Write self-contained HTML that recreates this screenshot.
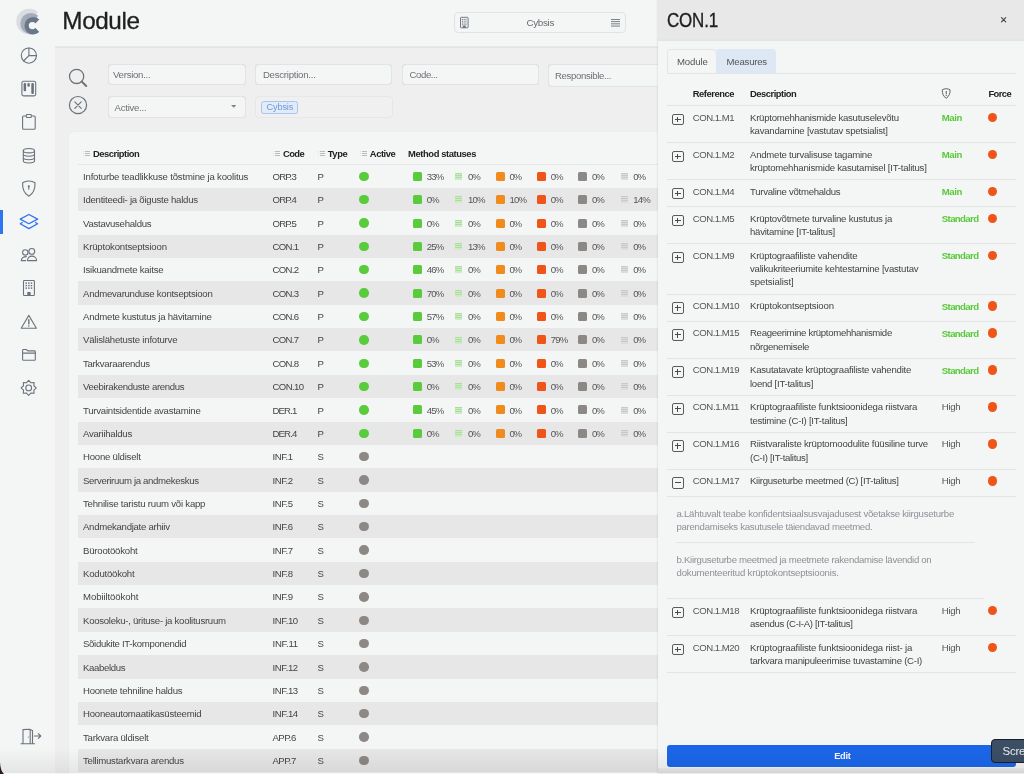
<!DOCTYPE html>
<html><head><meta charset="utf-8"><title>Module</title>
<style>
*{box-sizing:border-box;margin:0;padding:0}
html,body{width:1024px;height:774px;overflow:hidden}
body{background:#f4f5f5;font-family:"Liberation Sans", Arial, sans-serif;color:#444;position:relative;font-size:9px}
.a{position:absolute}
.t{position:absolute;white-space:nowrap;line-height:1}
.inp{position:absolute;background:#f4f5f5;border:1px solid #e2e3e4;border-radius:4px;box-shadow:0 0 0.6px rgba(0,0,0,.12)}
.sq{position:absolute;width:9px;height:9px;border-radius:1.5px}
.dot{position:absolute;width:9.4px;height:9.4px;border-radius:50%}
.pb{position:absolute;width:11.5px;height:11.6px;border:1px solid #5a5a5a;border-radius:2px}
.pb:before{content:"";position:absolute;left:2px;top:4.3px;width:5.6px;height:0.95px;background:#4a4a4a}
.pb.plus:after{content:"";position:absolute;left:4.3px;top:2.05px;width:0.95px;height:5.4px;background:#4a4a4a}
.sep{position:absolute;height:1px;background:#e3e4e5}
</style></head><body>

<svg class="a" style="left:10px;top:5px" width="40" height="40" viewBox="10 5 40 40"><path d="M29.20 21.60L38.00 31.03A12.9 12.9 0 1 1 38.00 12.17Z" fill="#d9dde1"/><path d="M31.00 23.60L38.30 31.43A10.7 10.7 0 1 1 38.30 15.77Z" fill="#a4adb7"/><path d="M33.20 25.75L39.28 32.04A8.75 8.75 0 1 1 39.28 19.46Z" fill="#697889"/><circle cx="32.4" cy="25.6" r="3.6" fill="#f4f5f5"/></svg>
<svg class="a" style="left:20px;top:47px" width="18" height="18" viewBox="20 47 18 18"><g fill="none" stroke="#6b737c" stroke-width="1.1" stroke-linecap="round" stroke-linejoin="round"><circle cx="28.9" cy="55.6" r="7.6"/><path d="M28.9 48V55.6H36.5M28.9 55.6L23.5 61"/></g></svg>
<svg class="a" style="left:20px;top:79px" width="18" height="19" viewBox="20 79 18 19"><rect x="21.9" y="81.3" width="13.8" height="14.6" rx="1.6" fill="none" stroke="#6b737c" stroke-width="1.1" stroke-linecap="round" stroke-linejoin="round"/><g fill="#6b737c"><rect x="23.6" y="83" width="2.5" height="8.3" rx="1"/><rect x="27.4" y="83" width="2.4" height="3.7" rx="1"/><rect x="31.3" y="83" width="2.6" height="11" rx="1"/></g></svg>
<svg class="a" style="left:20px;top:112px" width="18" height="20" viewBox="20 112 18 20"><g fill="none" stroke="#6b737c" stroke-width="1.1" stroke-linecap="round" stroke-linejoin="round"><path d="M25.8 116H23.6Q22.6 116 22.6 117V128.2Q22.6 129.2 23.6 129.2H34.2Q35.2 129.2 35.2 128.2V117Q35.2 116 34.2 116H32"/><rect x="26.3" y="114.5" width="5" height="3" rx=".8"/></g></svg>
<svg class="a" style="left:21px;top:146px" width="16" height="19" viewBox="21 146 16 19"><g fill="none" stroke="#6b737c" stroke-width="1.1" stroke-linecap="round" stroke-linejoin="round"><ellipse cx="28.9" cy="150.7" rx="5.6" ry="2.2"/><path d="M23.3 150.7V160.8C23.3 162 25.8 163 28.9 163C32 163 34.5 162 34.5 160.8V150.7M23.3 154.1C23.3 155.3 25.8 156.3 28.9 156.3C32 156.3 34.5 155.3 34.5 154.1M23.3 157.5C23.3 158.7 25.8 159.7 28.9 159.7C32 159.7 34.5 158.7 34.5 157.5"/></g></svg>
<svg class="a" style="left:20px;top:179px" width="18" height="19" viewBox="20 179 18 19"><g fill="none" stroke="#6b737c" stroke-width="1.1" stroke-linecap="round" stroke-linejoin="round"><path d="M28.8 181C26.5 181 24 181.8 22.6 182.8C22.3 188.5 24.2 193.5 28.8 196.2C33.4 193.5 35.3 188.5 35 182.8C33.6 181.8 31.1 181 28.8 181Z"/></g><circle cx="28.8" cy="186.3" r="1.1" fill="#6b737c"/><rect x="28.3" y="186.5" width="1" height="3.3" fill="#6b737c"/></svg>
<div class="a" style="left:0;top:210px;width:2.7px;height:23.5px;background:#2f74f0"></div>
<svg class="a" style="left:18px;top:212px" width="22" height="19" viewBox="18 212 22 19"><g fill="none" stroke="#2f74f0" stroke-width="1.3" stroke-linejoin="round"><path d="M28.9 214.5L37.6 219.1L28.9 223.7L20.2 219.1Z"/><path d="M22.6 222.4L20.2 223.8L28.9 228.6L37.6 223.8L35.2 222.4"/></g></svg>
<svg class="a" style="left:19px;top:246px" width="20" height="17" viewBox="19 246 20 17"><g fill="none" stroke="#6b737c" stroke-width="1.1" stroke-linecap="round" stroke-linejoin="round"><circle cx="25.3" cy="252.4" r="2.7"/><circle cx="31.8" cy="251.4" r="2.9"/><path d="M26.3 256.6C23.5 256.4 21.3 258.3 21.3 260.6H25.6M27.4 260.6H36.6C36.6 258 34.4 256.1 31.9 256.1C29.4 256.1 27.4 258 27.4 260.6Z"/></g></svg>
<svg class="a" style="left:21px;top:278px" width="16" height="20" viewBox="21 278 16 20"><rect x="23.5" y="280.5" width="10.9" height="15" rx=".8" fill="none" stroke="#6b737c" stroke-width="1.1" stroke-linecap="round" stroke-linejoin="round"/><g fill="#6b737c">
<rect x="25.5" y="282.4" width="1.5" height="1.4"/>
<rect x="28.1" y="282.4" width="1.5" height="1.4"/>
<rect x="30.7" y="282.4" width="1.5" height="1.4"/>
<rect x="25.5" y="284.9" width="1.5" height="1.4"/>
<rect x="28.1" y="284.9" width="1.5" height="1.4"/>
<rect x="30.7" y="284.9" width="1.5" height="1.4"/>
<rect x="25.5" y="287.4" width="1.5" height="1.4"/>
<rect x="28.1" y="287.4" width="1.5" height="1.4"/>
<rect x="30.7" y="287.4" width="1.5" height="1.4"/>
<rect x="27.3" y="292" width="3.3" height="3.5"/></g></svg>
<svg class="a" style="left:19px;top:313px" width="20" height="18" viewBox="19 313 20 18"><g fill="none" stroke="#6b737c" stroke-width="1.1" stroke-linecap="round" stroke-linejoin="round"><path d="M28.8 315.4L36.4 328.3H21.2Z"/></g><path d="M28.8 319.6V323.9" stroke="#6b737c" stroke-width="1.4" stroke-linecap="round"/><circle cx="28.8" cy="326" r=".8" fill="#6b737c"/></svg>
<svg class="a" style="left:20px;top:347px" width="18" height="16" viewBox="20 347 18 16"><g fill="none" stroke="#6b737c" stroke-width="1.1" stroke-linecap="round" stroke-linejoin="round"><path d="M22.6 350.4Q22.6 349.5 23.5 349.5H26.3L27.8 350.9H34.4Q35.3 350.9 35.3 351.8V359.4Q35.3 360.3 34.4 360.3H23.5Q22.6 360.3 22.6 359.4Z"/><path d="M22.6 353.1H35.3"/></g></svg>
<svg class="a" style="left:19px;top:378px" width="20" height="20" viewBox="19 378 20 20"><g fill="none" stroke="#6b737c" stroke-width="1.1" stroke-linecap="round" stroke-linejoin="round"><polygon points="28.70,380.30 30.84,382.73 34.07,382.53 33.87,385.76 36.30,387.90 33.87,390.04 34.07,393.27 30.84,393.07 28.70,395.50 26.56,393.07 23.33,393.27 23.53,390.04 21.10,387.90 23.53,385.76 23.33,382.53 26.56,382.73"/><circle cx="28.7" cy="387.9" r="2.9"/></g></svg>
<svg class="a" style="left:19px;top:726px" width="24" height="20" viewBox="19 726 24 20"><g fill="none" stroke="#6b737c" stroke-width="1.1" stroke-linecap="round" stroke-linejoin="round"><path d="M21 743.8H34.6M23 743.6V729.6L29.5 729.2L32.5 730.4V743.6M30.2 729.6V743.6M34.2 736H40.6M38.3 733.6L40.8 736L38.3 738.4"/></g><circle cx="28.3" cy="737" r=".6" fill="#6b737c"/></svg>
<div class="a" style="left:55px;top:47px;width:603px;height:727px;background:#efefef"></div>
<div class="a" style="left:55px;top:45.5px;width:603px;height:2px;background:linear-gradient(#e9e9e9,#e2e2e2)"></div>
<div class="t" style="left:62.30px;top:9.13px;font-size:24.3px;color:#1f1f1f;letter-spacing:-0.406px;-webkit-text-stroke:0.3px #1f1f1f">Module</div>
<div class="a" style="left:454px;top:11.5px;width:172px;height:21.5px;border:1px solid #e1e2e3;border-radius:4px;background:#f4f5f5"></div>
<svg class="a" style="left:459px;top:16px" width="11" height="13" viewBox="459 16 11 13"><rect x="460.5" y="17.3" width="7.6" height="10.5" rx=".7" fill="none" stroke="#6b737c" stroke-width=".95"/><g fill="#6b737c"><rect x="461.90" y="18.90" width="1.05" height="1"/><rect x="463.65" y="18.90" width="1.05" height="1"/><rect x="465.40" y="18.90" width="1.05" height="1"/><rect x="461.90" y="20.70" width="1.05" height="1"/><rect x="463.65" y="20.70" width="1.05" height="1"/><rect x="465.40" y="20.70" width="1.05" height="1"/><rect x="461.90" y="22.50" width="1.05" height="1"/><rect x="463.65" y="22.50" width="1.05" height="1"/><rect x="465.40" y="22.50" width="1.05" height="1"/><rect x="461.90" y="24.30" width="1.05" height="1"/><rect x="463.65" y="24.30" width="1.05" height="1"/><rect x="465.40" y="24.30" width="1.05" height="1"/><rect x="462.9" y="25.6" width="2.8" height="2.2"/></g></svg>
<div class="t" style="left:526.50px;top:17.82px;font-size:9.9px;color:#676c72;letter-spacing:-0.352px;">Cybsis</div>
<svg class="a" style="left:611px;top:18.5px" width="9" height="8" viewBox="0 0 9 8"><g fill="#6b737c"><rect y="0" width="9" height=".9"/><rect y="2.2" width="9" height=".9"/><rect y="4.4" width="9" height=".9"/><rect y="6.6" width="9" height=".9"/></g></svg>
<svg class="a" style="left:67px;top:67px" width="22" height="22" viewBox="67 67 22 22"><g fill="none" stroke="#6b737c" stroke-width="1.3" stroke-linecap="round"><circle cx="76.6" cy="76.4" r="7.1"/><path d="M81.8 81.6L86.2 86" stroke-width="2"/></g></svg>
<svg class="a" style="left:68px;top:95px" width="20" height="20" viewBox="68 95 20 20"><g fill="none" stroke="#6b737c" stroke-width="1.2" stroke-linecap="round"><circle cx="78" cy="105.1" r="8.6"/><path d="M74.8 101.9L81.2 108.3M81.2 101.9L74.8 108.3"/></g></svg>
<div class="inp" style="left:108px;top:63.5px;width:137.5px;height:21.700000000000003px"></div>
<div class="t" style="left:113.00px;top:69.77px;font-size:9.6px;color:#6d7176;letter-spacing:-0.258px;">Version...</div>
<div class="inp" style="left:255.3px;top:63.5px;width:137.2px;height:21.700000000000003px"></div>
<div class="t" style="left:262.90px;top:69.77px;font-size:9.6px;color:#6d7176;letter-spacing:-0.235px;">Description...</div>
<div class="inp" style="left:401.9px;top:63.5px;width:137.60000000000002px;height:21.700000000000003px"></div>
<div class="t" style="left:409.60px;top:69.77px;font-size:9.6px;color:#6d7176;letter-spacing:-0.424px;">Code...</div>
<div class="inp" style="left:548.3px;top:63.8px;width:151.70000000000005px;height:23.0px"></div>
<div class="t" style="left:555.00px;top:71.27px;font-size:9.6px;color:#6d7176;letter-spacing:-0.336px;">Responsible...</div>
<div class="inp" style="left:108px;top:95.9px;width:137.5px;height:22.3px"></div>
<div class="t" style="left:114.50px;top:103.07px;font-size:9.6px;color:#6d7176;letter-spacing:-0.245px;">Active...</div>
<svg class="a" style="left:230.8px;top:105.2px" width="5.4" height="3" viewBox="0 0 5.4 3"><path d="M0 0H5.4L2.7 2.8Z" fill="#808489"/></svg>
<div class="a" style="left:255px;top:96px;width:137.5px;height:22px;border:1px solid #e6e7e8;border-radius:4px;background:#f0f0f0"></div>
<div class="a" style="left:261px;top:101px;width:36.5px;height:13.2px;border:1px solid #a9c3ee;border-radius:2.5px;background:#e2ebf8"></div>
<div class="t" style="left:266.50px;top:102.81px;font-size:9.2px;color:#6d9be2;letter-spacing:-0.154px;">Cybsis</div>
<div class="a" style="left:69px;top:132px;width:620px;height:700px;background:#f4f5f5;border-radius:5px;box-shadow:0 0 1px rgba(0,0,0,.08)"></div>
<svg class="a" style="left:273px;top:151px" width="8" height="6" viewBox="0 0 8 6"><rect x="0" y="0" width="1" height="1" fill="#dfe1e4"/><rect x="2" y="0" width="5" height="1" fill="#b8bcc2"/><rect x="0" y="2" width="1" height="1" fill="#dfe1e4"/><rect x="2" y="2" width="5" height="1" fill="#b8bcc2"/><rect x="0" y="4" width="1" height="1" fill="#dfe1e4"/><rect x="2" y="4" width="5" height="1" fill="#b8bcc2"/></svg>
<div class="t" style="left:93.00px;top:148.54px;font-size:9.4px;color:#222;font-weight:bold;letter-spacing:-0.477px;">Description</div>
<svg class="a" style="left:83px;top:151px" width="8" height="6" viewBox="0 0 8 6"><rect x="0" y="0" width="1" height="1" fill="#dfe1e4"/><rect x="2" y="0" width="5" height="1" fill="#b8bcc2"/><rect x="0" y="2" width="1" height="1" fill="#dfe1e4"/><rect x="2" y="2" width="5" height="1" fill="#b8bcc2"/><rect x="0" y="4" width="1" height="1" fill="#dfe1e4"/><rect x="2" y="4" width="5" height="1" fill="#b8bcc2"/></svg>
<svg class="a" style="left:318px;top:151px" width="8" height="6" viewBox="0 0 8 6"><rect x="0" y="0" width="1" height="1" fill="#dfe1e4"/><rect x="2" y="0" width="5" height="1" fill="#b8bcc2"/><rect x="0" y="2" width="1" height="1" fill="#dfe1e4"/><rect x="2" y="2" width="5" height="1" fill="#b8bcc2"/><rect x="0" y="4" width="1" height="1" fill="#dfe1e4"/><rect x="2" y="4" width="5" height="1" fill="#b8bcc2"/></svg>
<div class="t" style="left:283.10px;top:148.54px;font-size:9.4px;color:#222;font-weight:bold;letter-spacing:-0.633px;">Code</div>
<div class="t" style="left:327.70px;top:148.54px;font-size:9.4px;color:#222;font-weight:bold;letter-spacing:-0.375px;">Type</div>
<svg class="a" style="left:360px;top:151px" width="8" height="6" viewBox="0 0 8 6"><rect x="0" y="0" width="1" height="1" fill="#dfe1e4"/><rect x="2" y="0" width="5" height="1" fill="#b8bcc2"/><rect x="0" y="2" width="1" height="1" fill="#dfe1e4"/><rect x="2" y="2" width="5" height="1" fill="#b8bcc2"/><rect x="0" y="4" width="1" height="1" fill="#dfe1e4"/><rect x="2" y="4" width="5" height="1" fill="#b8bcc2"/></svg>
<div class="t" style="left:369.80px;top:148.54px;font-size:9.4px;color:#222;font-weight:bold;letter-spacing:-0.435px;">Active</div>
<div class="t" style="left:408.10px;top:148.54px;font-size:9.4px;color:#222;font-weight:bold;letter-spacing:-0.406px;">Method statuses</div>
<div class="sep" style="left:78px;top:164.3px;width:580px;background:#e5e6e7"></div>
<div class="t" style="left:83.00px;top:171.92px;font-size:9.6px;color:#454545;letter-spacing:-0.181px;">Infoturbe teadlikkuse tõstmine ja koolitus</div>
<div class="t" style="left:272.50px;top:171.92px;font-size:9.6px;color:#454545;letter-spacing:-0.825px;">ORP.3</div>
<div class="t" style="left:317.60px;top:171.92px;font-size:9.6px;color:#454545;letter-spacing:-0.719px;">P</div>
<div class="dot" style="left:359.2px;top:171.60px;background:#5acb3c"></div>
<div class="sq" style="left:412.9px;top:171.80px;background:#5acb3c"></div>
<div class="t" style="left:426.80px;top:171.92px;font-size:9.6px;color:#555;letter-spacing:-0.828px;">33%</div>
<svg class="a" style="left:455px;top:173px" width="7" height="7" viewBox="0 0 7 7"><rect width="7" height="7" fill="#cdebc5"/><g fill="#a9df9b"><rect x="0" y="0" width="7" height="1"/><rect x="0" y="2" width="7" height="1"/><rect x="0" y="4" width="7" height="1"/></g></svg>
<div class="t" style="left:468.10px;top:171.92px;font-size:9.6px;color:#555;letter-spacing:-1.109px;">0%</div>
<div class="sq" style="left:495.5px;top:171.80px;background:#f08c1e"></div>
<div class="t" style="left:509.40px;top:171.92px;font-size:9.6px;color:#555;letter-spacing:-1.109px;">0%</div>
<div class="sq" style="left:536.8px;top:171.80px;background:#ef5519"></div>
<div class="t" style="left:550.70px;top:171.92px;font-size:9.6px;color:#555;letter-spacing:-1.109px;">0%</div>
<div class="sq" style="left:578.1px;top:171.80px;background:#8c8886"></div>
<div class="t" style="left:592.00px;top:171.92px;font-size:9.6px;color:#555;letter-spacing:-1.109px;">0%</div>
<svg class="a" style="left:621px;top:173px" width="7" height="7" viewBox="0 0 7 7"><rect width="7" height="7" fill="#dcdcdc"/><g fill="#c9c9c9"><rect x="0" y="0" width="7" height="1"/><rect x="0" y="2" width="7" height="1"/><rect x="0" y="4" width="7" height="1"/></g></svg>
<div class="t" style="left:633.30px;top:171.92px;font-size:9.6px;color:#555;letter-spacing:-1.109px;">0%</div>
<div class="a" style="left:78px;top:187.87px;width:580px;height:23.365px;background:#e7e7e7"></div>
<div class="t" style="left:83.00px;top:195.29px;font-size:9.6px;color:#454545;letter-spacing:-0.244px;">Identiteedi- ja õiguste haldus</div>
<div class="t" style="left:272.50px;top:195.29px;font-size:9.6px;color:#454545;letter-spacing:-0.825px;">ORP.4</div>
<div class="t" style="left:317.60px;top:195.29px;font-size:9.6px;color:#454545;letter-spacing:-0.719px;">P</div>
<div class="dot" style="left:359.2px;top:194.97px;background:#5acb3c"></div>
<div class="sq" style="left:412.9px;top:195.17px;background:#5acb3c"></div>
<div class="t" style="left:426.80px;top:195.29px;font-size:9.6px;color:#555;letter-spacing:-1.109px;">0%</div>
<svg class="a" style="left:455px;top:196px" width="7" height="7" viewBox="0 0 7 7"><rect width="7" height="7" fill="#cdebc5"/><g fill="#a9df9b"><rect x="0" y="0" width="7" height="1"/><rect x="0" y="2" width="7" height="1"/><rect x="0" y="4" width="7" height="1"/></g></svg>
<div class="t" style="left:468.10px;top:195.29px;font-size:9.6px;color:#555;letter-spacing:-0.828px;">10%</div>
<div class="sq" style="left:495.5px;top:195.17px;background:#f08c1e"></div>
<div class="t" style="left:509.40px;top:195.29px;font-size:9.6px;color:#555;letter-spacing:-0.828px;">10%</div>
<div class="sq" style="left:536.8px;top:195.17px;background:#ef5519"></div>
<div class="t" style="left:550.70px;top:195.29px;font-size:9.6px;color:#555;letter-spacing:-1.109px;">0%</div>
<div class="sq" style="left:578.1px;top:195.17px;background:#8c8886"></div>
<div class="t" style="left:592.00px;top:195.29px;font-size:9.6px;color:#555;letter-spacing:-1.109px;">0%</div>
<svg class="a" style="left:621px;top:196px" width="7" height="7" viewBox="0 0 7 7"><rect width="7" height="7" fill="#dcdcdc"/><g fill="#c9c9c9"><rect x="0" y="0" width="7" height="1"/><rect x="0" y="2" width="7" height="1"/><rect x="0" y="4" width="7" height="1"/></g></svg>
<div class="t" style="left:633.30px;top:195.29px;font-size:9.6px;color:#555;letter-spacing:-0.828px;">14%</div>
<div class="t" style="left:83.00px;top:218.65px;font-size:9.6px;color:#454545;letter-spacing:-0.270px;">Vastavusehaldus</div>
<div class="t" style="left:272.50px;top:218.65px;font-size:9.6px;color:#454545;letter-spacing:-0.825px;">ORP.5</div>
<div class="t" style="left:317.60px;top:218.65px;font-size:9.6px;color:#454545;letter-spacing:-0.719px;">P</div>
<div class="dot" style="left:359.2px;top:218.33px;background:#5acb3c"></div>
<div class="sq" style="left:412.9px;top:218.53px;background:#5acb3c"></div>
<div class="t" style="left:426.80px;top:218.65px;font-size:9.6px;color:#555;letter-spacing:-1.109px;">0%</div>
<svg class="a" style="left:455px;top:220px" width="7" height="7" viewBox="0 0 7 7"><rect width="7" height="7" fill="#cdebc5"/><g fill="#a9df9b"><rect x="0" y="0" width="7" height="1"/><rect x="0" y="2" width="7" height="1"/><rect x="0" y="4" width="7" height="1"/></g></svg>
<div class="t" style="left:468.10px;top:218.65px;font-size:9.6px;color:#555;letter-spacing:-1.109px;">0%</div>
<div class="sq" style="left:495.5px;top:218.53px;background:#f08c1e"></div>
<div class="t" style="left:509.40px;top:218.65px;font-size:9.6px;color:#555;letter-spacing:-1.109px;">0%</div>
<div class="sq" style="left:536.8px;top:218.53px;background:#ef5519"></div>
<div class="t" style="left:550.70px;top:218.65px;font-size:9.6px;color:#555;letter-spacing:-1.109px;">0%</div>
<div class="sq" style="left:578.1px;top:218.53px;background:#8c8886"></div>
<div class="t" style="left:592.00px;top:218.65px;font-size:9.6px;color:#555;letter-spacing:-1.109px;">0%</div>
<svg class="a" style="left:621px;top:220px" width="7" height="7" viewBox="0 0 7 7"><rect width="7" height="7" fill="#dcdcdc"/><g fill="#c9c9c9"><rect x="0" y="0" width="7" height="1"/><rect x="0" y="2" width="7" height="1"/><rect x="0" y="4" width="7" height="1"/></g></svg>
<div class="t" style="left:633.30px;top:218.65px;font-size:9.6px;color:#555;letter-spacing:-1.109px;">0%</div>
<div class="a" style="left:78px;top:234.59px;width:580px;height:23.365px;background:#e7e7e7"></div>
<div class="t" style="left:83.00px;top:242.02px;font-size:9.6px;color:#454545;letter-spacing:-0.193px;">Krüptokontseptsioon</div>
<div class="t" style="left:272.50px;top:242.02px;font-size:9.6px;color:#454545;letter-spacing:-0.684px;">CON.1</div>
<div class="t" style="left:317.60px;top:242.02px;font-size:9.6px;color:#454545;letter-spacing:-0.719px;">P</div>
<div class="dot" style="left:359.2px;top:241.69px;background:#5acb3c"></div>
<div class="sq" style="left:412.9px;top:241.90px;background:#5acb3c"></div>
<div class="t" style="left:426.80px;top:242.02px;font-size:9.6px;color:#555;letter-spacing:-0.828px;">25%</div>
<svg class="a" style="left:455px;top:243px" width="7" height="7" viewBox="0 0 7 7"><rect width="7" height="7" fill="#cdebc5"/><g fill="#a9df9b"><rect x="0" y="0" width="7" height="1"/><rect x="0" y="2" width="7" height="1"/><rect x="0" y="4" width="7" height="1"/></g></svg>
<div class="t" style="left:468.10px;top:242.02px;font-size:9.6px;color:#555;letter-spacing:-0.828px;">13%</div>
<div class="sq" style="left:495.5px;top:241.90px;background:#f08c1e"></div>
<div class="t" style="left:509.40px;top:242.02px;font-size:9.6px;color:#555;letter-spacing:-1.109px;">0%</div>
<div class="sq" style="left:536.8px;top:241.90px;background:#ef5519"></div>
<div class="t" style="left:550.70px;top:242.02px;font-size:9.6px;color:#555;letter-spacing:-1.109px;">0%</div>
<div class="sq" style="left:578.1px;top:241.90px;background:#8c8886"></div>
<div class="t" style="left:592.00px;top:242.02px;font-size:9.6px;color:#555;letter-spacing:-1.109px;">0%</div>
<svg class="a" style="left:621px;top:243px" width="7" height="7" viewBox="0 0 7 7"><rect width="7" height="7" fill="#dcdcdc"/><g fill="#c9c9c9"><rect x="0" y="0" width="7" height="1"/><rect x="0" y="2" width="7" height="1"/><rect x="0" y="4" width="7" height="1"/></g></svg>
<div class="t" style="left:633.30px;top:242.02px;font-size:9.6px;color:#555;letter-spacing:-1.109px;">0%</div>
<div class="t" style="left:83.00px;top:265.38px;font-size:9.6px;color:#454545;letter-spacing:-0.233px;">Isikuandmete kaitse</div>
<div class="t" style="left:272.50px;top:265.38px;font-size:9.6px;color:#454545;letter-spacing:-0.684px;">CON.2</div>
<div class="t" style="left:317.60px;top:265.38px;font-size:9.6px;color:#454545;letter-spacing:-0.719px;">P</div>
<div class="dot" style="left:359.2px;top:265.06px;background:#5acb3c"></div>
<div class="sq" style="left:412.9px;top:265.26px;background:#5acb3c"></div>
<div class="t" style="left:426.80px;top:265.38px;font-size:9.6px;color:#555;letter-spacing:-0.828px;">46%</div>
<svg class="a" style="left:455px;top:266px" width="7" height="7" viewBox="0 0 7 7"><rect width="7" height="7" fill="#cdebc5"/><g fill="#a9df9b"><rect x="0" y="0" width="7" height="1"/><rect x="0" y="2" width="7" height="1"/><rect x="0" y="4" width="7" height="1"/></g></svg>
<div class="t" style="left:468.10px;top:265.38px;font-size:9.6px;color:#555;letter-spacing:-1.109px;">0%</div>
<div class="sq" style="left:495.5px;top:265.26px;background:#f08c1e"></div>
<div class="t" style="left:509.40px;top:265.38px;font-size:9.6px;color:#555;letter-spacing:-1.109px;">0%</div>
<div class="sq" style="left:536.8px;top:265.26px;background:#ef5519"></div>
<div class="t" style="left:550.70px;top:265.38px;font-size:9.6px;color:#555;letter-spacing:-1.109px;">0%</div>
<div class="sq" style="left:578.1px;top:265.26px;background:#8c8886"></div>
<div class="t" style="left:592.00px;top:265.38px;font-size:9.6px;color:#555;letter-spacing:-1.109px;">0%</div>
<svg class="a" style="left:621px;top:266px" width="7" height="7" viewBox="0 0 7 7"><rect width="7" height="7" fill="#dcdcdc"/><g fill="#c9c9c9"><rect x="0" y="0" width="7" height="1"/><rect x="0" y="2" width="7" height="1"/><rect x="0" y="4" width="7" height="1"/></g></svg>
<div class="t" style="left:633.30px;top:265.38px;font-size:9.6px;color:#555;letter-spacing:-1.109px;">0%</div>
<div class="a" style="left:78px;top:281.32px;width:580px;height:23.365px;background:#e7e7e7"></div>
<div class="t" style="left:83.00px;top:288.75px;font-size:9.6px;color:#454545;letter-spacing:-0.271px;">Andmevarunduse kontseptsioon</div>
<div class="t" style="left:272.50px;top:288.75px;font-size:9.6px;color:#454545;letter-spacing:-0.684px;">CON.3</div>
<div class="t" style="left:317.60px;top:288.75px;font-size:9.6px;color:#454545;letter-spacing:-0.719px;">P</div>
<div class="dot" style="left:359.2px;top:288.43px;background:#5acb3c"></div>
<div class="sq" style="left:412.9px;top:288.62px;background:#5acb3c"></div>
<div class="t" style="left:426.80px;top:288.75px;font-size:9.6px;color:#555;letter-spacing:-0.828px;">70%</div>
<svg class="a" style="left:455px;top:290px" width="7" height="7" viewBox="0 0 7 7"><rect width="7" height="7" fill="#cdebc5"/><g fill="#a9df9b"><rect x="0" y="0" width="7" height="1"/><rect x="0" y="2" width="7" height="1"/><rect x="0" y="4" width="7" height="1"/></g></svg>
<div class="t" style="left:468.10px;top:288.75px;font-size:9.6px;color:#555;letter-spacing:-1.109px;">0%</div>
<div class="sq" style="left:495.5px;top:288.62px;background:#f08c1e"></div>
<div class="t" style="left:509.40px;top:288.75px;font-size:9.6px;color:#555;letter-spacing:-1.109px;">0%</div>
<div class="sq" style="left:536.8px;top:288.62px;background:#ef5519"></div>
<div class="t" style="left:550.70px;top:288.75px;font-size:9.6px;color:#555;letter-spacing:-1.109px;">0%</div>
<div class="sq" style="left:578.1px;top:288.62px;background:#8c8886"></div>
<div class="t" style="left:592.00px;top:288.75px;font-size:9.6px;color:#555;letter-spacing:-1.109px;">0%</div>
<svg class="a" style="left:621px;top:290px" width="7" height="7" viewBox="0 0 7 7"><rect width="7" height="7" fill="#dcdcdc"/><g fill="#c9c9c9"><rect x="0" y="0" width="7" height="1"/><rect x="0" y="2" width="7" height="1"/><rect x="0" y="4" width="7" height="1"/></g></svg>
<div class="t" style="left:633.30px;top:288.75px;font-size:9.6px;color:#555;letter-spacing:-1.109px;">0%</div>
<div class="t" style="left:83.00px;top:312.11px;font-size:9.6px;color:#454545;letter-spacing:-0.244px;">Andmete kustutus ja hävitamine</div>
<div class="t" style="left:272.50px;top:312.11px;font-size:9.6px;color:#454545;letter-spacing:-0.684px;">CON.6</div>
<div class="t" style="left:317.60px;top:312.11px;font-size:9.6px;color:#454545;letter-spacing:-0.719px;">P</div>
<div class="dot" style="left:359.2px;top:311.79px;background:#5acb3c"></div>
<div class="sq" style="left:412.9px;top:311.99px;background:#5acb3c"></div>
<div class="t" style="left:426.80px;top:312.11px;font-size:9.6px;color:#555;letter-spacing:-0.828px;">57%</div>
<svg class="a" style="left:455px;top:313px" width="7" height="7" viewBox="0 0 7 7"><rect width="7" height="7" fill="#cdebc5"/><g fill="#a9df9b"><rect x="0" y="0" width="7" height="1"/><rect x="0" y="2" width="7" height="1"/><rect x="0" y="4" width="7" height="1"/></g></svg>
<div class="t" style="left:468.10px;top:312.11px;font-size:9.6px;color:#555;letter-spacing:-1.109px;">0%</div>
<div class="sq" style="left:495.5px;top:311.99px;background:#f08c1e"></div>
<div class="t" style="left:509.40px;top:312.11px;font-size:9.6px;color:#555;letter-spacing:-1.109px;">0%</div>
<div class="sq" style="left:536.8px;top:311.99px;background:#ef5519"></div>
<div class="t" style="left:550.70px;top:312.11px;font-size:9.6px;color:#555;letter-spacing:-1.109px;">0%</div>
<div class="sq" style="left:578.1px;top:311.99px;background:#8c8886"></div>
<div class="t" style="left:592.00px;top:312.11px;font-size:9.6px;color:#555;letter-spacing:-1.109px;">0%</div>
<svg class="a" style="left:621px;top:313px" width="7" height="7" viewBox="0 0 7 7"><rect width="7" height="7" fill="#dcdcdc"/><g fill="#c9c9c9"><rect x="0" y="0" width="7" height="1"/><rect x="0" y="2" width="7" height="1"/><rect x="0" y="4" width="7" height="1"/></g></svg>
<div class="t" style="left:633.30px;top:312.11px;font-size:9.6px;color:#555;letter-spacing:-1.109px;">0%</div>
<div class="a" style="left:78px;top:328.05px;width:580px;height:23.365px;background:#e7e7e7"></div>
<div class="t" style="left:83.00px;top:335.48px;font-size:9.6px;color:#454545;letter-spacing:-0.204px;">Välislähetuste infoturve</div>
<div class="t" style="left:272.50px;top:335.48px;font-size:9.6px;color:#454545;letter-spacing:-0.684px;">CON.7</div>
<div class="t" style="left:317.60px;top:335.48px;font-size:9.6px;color:#454545;letter-spacing:-0.719px;">P</div>
<div class="dot" style="left:359.2px;top:335.15px;background:#5acb3c"></div>
<div class="sq" style="left:412.9px;top:335.35px;background:#5acb3c"></div>
<div class="t" style="left:426.80px;top:335.48px;font-size:9.6px;color:#555;letter-spacing:-1.109px;">0%</div>
<svg class="a" style="left:455px;top:337px" width="7" height="7" viewBox="0 0 7 7"><rect width="7" height="7" fill="#cdebc5"/><g fill="#a9df9b"><rect x="0" y="0" width="7" height="1"/><rect x="0" y="2" width="7" height="1"/><rect x="0" y="4" width="7" height="1"/></g></svg>
<div class="t" style="left:468.10px;top:335.48px;font-size:9.6px;color:#555;letter-spacing:-1.109px;">0%</div>
<div class="sq" style="left:495.5px;top:335.35px;background:#f08c1e"></div>
<div class="t" style="left:509.40px;top:335.48px;font-size:9.6px;color:#555;letter-spacing:-1.109px;">0%</div>
<div class="sq" style="left:536.8px;top:335.35px;background:#ef5519"></div>
<div class="t" style="left:550.70px;top:335.48px;font-size:9.6px;color:#555;letter-spacing:-0.828px;">79%</div>
<div class="sq" style="left:578.1px;top:335.35px;background:#8c8886"></div>
<div class="t" style="left:592.00px;top:335.48px;font-size:9.6px;color:#555;letter-spacing:-1.109px;">0%</div>
<svg class="a" style="left:621px;top:337px" width="7" height="7" viewBox="0 0 7 7"><rect width="7" height="7" fill="#dcdcdc"/><g fill="#c9c9c9"><rect x="0" y="0" width="7" height="1"/><rect x="0" y="2" width="7" height="1"/><rect x="0" y="4" width="7" height="1"/></g></svg>
<div class="t" style="left:633.30px;top:335.48px;font-size:9.6px;color:#555;letter-spacing:-1.109px;">0%</div>
<div class="t" style="left:83.00px;top:358.84px;font-size:9.6px;color:#454545;letter-spacing:-0.322px;">Tarkvaraarendus</div>
<div class="t" style="left:272.50px;top:358.84px;font-size:9.6px;color:#454545;letter-spacing:-0.684px;">CON.8</div>
<div class="t" style="left:317.60px;top:358.84px;font-size:9.6px;color:#454545;letter-spacing:-0.719px;">P</div>
<div class="dot" style="left:359.2px;top:358.52px;background:#5acb3c"></div>
<div class="sq" style="left:412.9px;top:358.72px;background:#5acb3c"></div>
<div class="t" style="left:426.80px;top:358.84px;font-size:9.6px;color:#555;letter-spacing:-0.828px;">53%</div>
<svg class="a" style="left:455px;top:360px" width="7" height="7" viewBox="0 0 7 7"><rect width="7" height="7" fill="#cdebc5"/><g fill="#a9df9b"><rect x="0" y="0" width="7" height="1"/><rect x="0" y="2" width="7" height="1"/><rect x="0" y="4" width="7" height="1"/></g></svg>
<div class="t" style="left:468.10px;top:358.84px;font-size:9.6px;color:#555;letter-spacing:-1.109px;">0%</div>
<div class="sq" style="left:495.5px;top:358.72px;background:#f08c1e"></div>
<div class="t" style="left:509.40px;top:358.84px;font-size:9.6px;color:#555;letter-spacing:-1.109px;">0%</div>
<div class="sq" style="left:536.8px;top:358.72px;background:#ef5519"></div>
<div class="t" style="left:550.70px;top:358.84px;font-size:9.6px;color:#555;letter-spacing:-1.109px;">0%</div>
<div class="sq" style="left:578.1px;top:358.72px;background:#8c8886"></div>
<div class="t" style="left:592.00px;top:358.84px;font-size:9.6px;color:#555;letter-spacing:-1.109px;">0%</div>
<svg class="a" style="left:621px;top:360px" width="7" height="7" viewBox="0 0 7 7"><rect width="7" height="7" fill="#dcdcdc"/><g fill="#c9c9c9"><rect x="0" y="0" width="7" height="1"/><rect x="0" y="2" width="7" height="1"/><rect x="0" y="4" width="7" height="1"/></g></svg>
<div class="t" style="left:633.30px;top:358.84px;font-size:9.6px;color:#555;letter-spacing:-1.109px;">0%</div>
<div class="a" style="left:78px;top:374.78px;width:580px;height:23.365px;background:#e7e7e7"></div>
<div class="t" style="left:83.00px;top:382.21px;font-size:9.6px;color:#454545;letter-spacing:-0.329px;">Veebirakenduste arendus</div>
<div class="t" style="left:272.50px;top:382.21px;font-size:9.6px;color:#454545;letter-spacing:-0.615px;">CON.10</div>
<div class="t" style="left:317.60px;top:382.21px;font-size:9.6px;color:#454545;letter-spacing:-0.719px;">P</div>
<div class="dot" style="left:359.2px;top:381.88px;background:#5acb3c"></div>
<div class="sq" style="left:412.9px;top:382.08px;background:#5acb3c"></div>
<div class="t" style="left:426.80px;top:382.21px;font-size:9.6px;color:#555;letter-spacing:-1.109px;">0%</div>
<svg class="a" style="left:455px;top:383px" width="7" height="7" viewBox="0 0 7 7"><rect width="7" height="7" fill="#cdebc5"/><g fill="#a9df9b"><rect x="0" y="0" width="7" height="1"/><rect x="0" y="2" width="7" height="1"/><rect x="0" y="4" width="7" height="1"/></g></svg>
<div class="t" style="left:468.10px;top:382.21px;font-size:9.6px;color:#555;letter-spacing:-1.109px;">0%</div>
<div class="sq" style="left:495.5px;top:382.08px;background:#f08c1e"></div>
<div class="t" style="left:509.40px;top:382.21px;font-size:9.6px;color:#555;letter-spacing:-1.109px;">0%</div>
<div class="sq" style="left:536.8px;top:382.08px;background:#ef5519"></div>
<div class="t" style="left:550.70px;top:382.21px;font-size:9.6px;color:#555;letter-spacing:-1.109px;">0%</div>
<div class="sq" style="left:578.1px;top:382.08px;background:#8c8886"></div>
<div class="t" style="left:592.00px;top:382.21px;font-size:9.6px;color:#555;letter-spacing:-1.109px;">0%</div>
<svg class="a" style="left:621px;top:383px" width="7" height="7" viewBox="0 0 7 7"><rect width="7" height="7" fill="#dcdcdc"/><g fill="#c9c9c9"><rect x="0" y="0" width="7" height="1"/><rect x="0" y="2" width="7" height="1"/><rect x="0" y="4" width="7" height="1"/></g></svg>
<div class="t" style="left:633.30px;top:382.21px;font-size:9.6px;color:#555;letter-spacing:-1.109px;">0%</div>
<div class="t" style="left:83.00px;top:405.57px;font-size:9.6px;color:#454545;letter-spacing:-0.247px;">Turvaintsidentide avastamine</div>
<div class="t" style="left:272.50px;top:405.57px;font-size:9.6px;color:#454545;letter-spacing:-0.853px;">DER.1</div>
<div class="t" style="left:317.60px;top:405.57px;font-size:9.6px;color:#454545;letter-spacing:-0.719px;">P</div>
<div class="dot" style="left:359.2px;top:405.25px;background:#5acb3c"></div>
<div class="sq" style="left:412.9px;top:405.45px;background:#5acb3c"></div>
<div class="t" style="left:426.80px;top:405.57px;font-size:9.6px;color:#555;letter-spacing:-0.828px;">45%</div>
<svg class="a" style="left:455px;top:407px" width="7" height="7" viewBox="0 0 7 7"><rect width="7" height="7" fill="#cdebc5"/><g fill="#a9df9b"><rect x="0" y="0" width="7" height="1"/><rect x="0" y="2" width="7" height="1"/><rect x="0" y="4" width="7" height="1"/></g></svg>
<div class="t" style="left:468.10px;top:405.57px;font-size:9.6px;color:#555;letter-spacing:-1.109px;">0%</div>
<div class="sq" style="left:495.5px;top:405.45px;background:#f08c1e"></div>
<div class="t" style="left:509.40px;top:405.57px;font-size:9.6px;color:#555;letter-spacing:-1.109px;">0%</div>
<div class="sq" style="left:536.8px;top:405.45px;background:#ef5519"></div>
<div class="t" style="left:550.70px;top:405.57px;font-size:9.6px;color:#555;letter-spacing:-1.109px;">0%</div>
<div class="sq" style="left:578.1px;top:405.45px;background:#8c8886"></div>
<div class="t" style="left:592.00px;top:405.57px;font-size:9.6px;color:#555;letter-spacing:-1.109px;">0%</div>
<svg class="a" style="left:621px;top:407px" width="7" height="7" viewBox="0 0 7 7"><rect width="7" height="7" fill="#dcdcdc"/><g fill="#c9c9c9"><rect x="0" y="0" width="7" height="1"/><rect x="0" y="2" width="7" height="1"/><rect x="0" y="4" width="7" height="1"/></g></svg>
<div class="t" style="left:633.30px;top:405.57px;font-size:9.6px;color:#555;letter-spacing:-1.109px;">0%</div>
<div class="a" style="left:78px;top:421.51px;width:580px;height:23.365px;background:#e7e7e7"></div>
<div class="t" style="left:83.00px;top:428.94px;font-size:9.6px;color:#454545;letter-spacing:-0.258px;">Avariihaldus</div>
<div class="t" style="left:272.50px;top:428.94px;font-size:9.6px;color:#454545;letter-spacing:-0.853px;">DER.4</div>
<div class="t" style="left:317.60px;top:428.94px;font-size:9.6px;color:#454545;letter-spacing:-0.719px;">P</div>
<div class="dot" style="left:359.2px;top:428.62px;background:#5acb3c"></div>
<div class="sq" style="left:412.9px;top:428.81px;background:#5acb3c"></div>
<div class="t" style="left:426.80px;top:428.94px;font-size:9.6px;color:#555;letter-spacing:-1.109px;">0%</div>
<svg class="a" style="left:455px;top:430px" width="7" height="7" viewBox="0 0 7 7"><rect width="7" height="7" fill="#cdebc5"/><g fill="#a9df9b"><rect x="0" y="0" width="7" height="1"/><rect x="0" y="2" width="7" height="1"/><rect x="0" y="4" width="7" height="1"/></g></svg>
<div class="t" style="left:468.10px;top:428.94px;font-size:9.6px;color:#555;letter-spacing:-1.109px;">0%</div>
<div class="sq" style="left:495.5px;top:428.81px;background:#f08c1e"></div>
<div class="t" style="left:509.40px;top:428.94px;font-size:9.6px;color:#555;letter-spacing:-1.109px;">0%</div>
<div class="sq" style="left:536.8px;top:428.81px;background:#ef5519"></div>
<div class="t" style="left:550.70px;top:428.94px;font-size:9.6px;color:#555;letter-spacing:-1.109px;">0%</div>
<div class="sq" style="left:578.1px;top:428.81px;background:#8c8886"></div>
<div class="t" style="left:592.00px;top:428.94px;font-size:9.6px;color:#555;letter-spacing:-1.109px;">0%</div>
<svg class="a" style="left:621px;top:430px" width="7" height="7" viewBox="0 0 7 7"><rect width="7" height="7" fill="#dcdcdc"/><g fill="#c9c9c9"><rect x="0" y="0" width="7" height="1"/><rect x="0" y="2" width="7" height="1"/><rect x="0" y="4" width="7" height="1"/></g></svg>
<div class="t" style="left:633.30px;top:428.94px;font-size:9.6px;color:#555;letter-spacing:-1.109px;">0%</div>
<div class="t" style="left:83.00px;top:452.30px;font-size:9.6px;color:#454545;letter-spacing:-0.227px;">Hoone üldiselt</div>
<div class="t" style="left:272.50px;top:452.30px;font-size:9.6px;color:#454545;letter-spacing:-0.431px;">INF.1</div>
<div class="t" style="left:317.60px;top:452.30px;font-size:9.6px;color:#454545;letter-spacing:-1.062px;">S</div>
<div class="dot" style="left:359.2px;top:451.98px;background:#8c8886"></div>
<div class="a" style="left:78px;top:468.25px;width:580px;height:23.365px;background:#e7e7e7"></div>
<div class="t" style="left:83.00px;top:475.67px;font-size:9.6px;color:#454545;letter-spacing:-0.332px;">Serveriruum ja andmekeskus</div>
<div class="t" style="left:272.50px;top:475.67px;font-size:9.6px;color:#454545;letter-spacing:-0.431px;">INF.2</div>
<div class="t" style="left:317.60px;top:475.67px;font-size:9.6px;color:#454545;letter-spacing:-1.062px;">S</div>
<div class="dot" style="left:359.2px;top:475.35px;background:#8c8886"></div>
<div class="t" style="left:83.00px;top:499.03px;font-size:9.6px;color:#454545;letter-spacing:-0.220px;">Tehnilise taristu ruum või kapp</div>
<div class="t" style="left:272.50px;top:499.03px;font-size:9.6px;color:#454545;letter-spacing:-0.431px;">INF.5</div>
<div class="t" style="left:317.60px;top:499.03px;font-size:9.6px;color:#454545;letter-spacing:-1.062px;">S</div>
<div class="dot" style="left:359.2px;top:498.71px;background:#8c8886"></div>
<div class="a" style="left:78px;top:514.97px;width:580px;height:23.365px;background:#e7e7e7"></div>
<div class="t" style="left:83.00px;top:522.40px;font-size:9.6px;color:#454545;letter-spacing:-0.277px;">Andmekandjate arhiiv</div>
<div class="t" style="left:272.50px;top:522.40px;font-size:9.6px;color:#454545;letter-spacing:-0.431px;">INF.6</div>
<div class="t" style="left:317.60px;top:522.40px;font-size:9.6px;color:#454545;letter-spacing:-1.062px;">S</div>
<div class="dot" style="left:359.2px;top:522.07px;background:#8c8886"></div>
<div class="t" style="left:83.00px;top:545.76px;font-size:9.6px;color:#454545;letter-spacing:-0.214px;">Bürootöökoht</div>
<div class="t" style="left:272.50px;top:545.76px;font-size:9.6px;color:#454545;letter-spacing:-0.431px;">INF.7</div>
<div class="t" style="left:317.60px;top:545.76px;font-size:9.6px;color:#454545;letter-spacing:-1.062px;">S</div>
<div class="dot" style="left:359.2px;top:545.44px;background:#8c8886"></div>
<div class="a" style="left:78px;top:561.70px;width:580px;height:23.365px;background:#e7e7e7"></div>
<div class="t" style="left:83.00px;top:569.13px;font-size:9.6px;color:#454545;letter-spacing:-0.224px;">Kodutöökoht</div>
<div class="t" style="left:272.50px;top:569.13px;font-size:9.6px;color:#454545;letter-spacing:-0.431px;">INF.8</div>
<div class="t" style="left:317.60px;top:569.13px;font-size:9.6px;color:#454545;letter-spacing:-1.062px;">S</div>
<div class="dot" style="left:359.2px;top:568.80px;background:#8c8886"></div>
<div class="t" style="left:83.00px;top:592.49px;font-size:9.6px;color:#454545;letter-spacing:-0.093px;">Mobiiltöökoht</div>
<div class="t" style="left:272.50px;top:592.49px;font-size:9.6px;color:#454545;letter-spacing:-0.431px;">INF.9</div>
<div class="t" style="left:317.60px;top:592.49px;font-size:9.6px;color:#454545;letter-spacing:-1.062px;">S</div>
<div class="dot" style="left:359.2px;top:592.17px;background:#8c8886"></div>
<div class="a" style="left:78px;top:608.43px;width:580px;height:23.365px;background:#e7e7e7"></div>
<div class="t" style="left:83.00px;top:615.86px;font-size:9.6px;color:#454545;letter-spacing:-0.273px;">Koosoleku-, ürituse- ja koolitusruum</div>
<div class="t" style="left:272.50px;top:615.86px;font-size:9.6px;color:#454545;letter-spacing:-0.404px;">INF.10</div>
<div class="t" style="left:317.60px;top:615.86px;font-size:9.6px;color:#454545;letter-spacing:-1.062px;">S</div>
<div class="dot" style="left:359.2px;top:615.53px;background:#8c8886"></div>
<div class="t" style="left:83.00px;top:639.22px;font-size:9.6px;color:#454545;letter-spacing:-0.314px;">Sõidukite IT-komponendid</div>
<div class="t" style="left:272.50px;top:639.22px;font-size:9.6px;color:#454545;letter-spacing:-0.284px;">INF.11</div>
<div class="t" style="left:317.60px;top:639.22px;font-size:9.6px;color:#454545;letter-spacing:-1.062px;">S</div>
<div class="dot" style="left:359.2px;top:638.90px;background:#8c8886"></div>
<div class="a" style="left:78px;top:655.16px;width:580px;height:23.365px;background:#e7e7e7"></div>
<div class="t" style="left:83.00px;top:662.59px;font-size:9.6px;color:#454545;letter-spacing:-0.356px;">Kaabeldus</div>
<div class="t" style="left:272.50px;top:662.59px;font-size:9.6px;color:#454545;letter-spacing:-0.404px;">INF.12</div>
<div class="t" style="left:317.60px;top:662.59px;font-size:9.6px;color:#454545;letter-spacing:-1.062px;">S</div>
<div class="dot" style="left:359.2px;top:662.26px;background:#8c8886"></div>
<div class="t" style="left:83.00px;top:685.95px;font-size:9.6px;color:#454545;letter-spacing:-0.264px;">Hoonete tehniline haldus</div>
<div class="t" style="left:272.50px;top:685.95px;font-size:9.6px;color:#454545;letter-spacing:-0.404px;">INF.13</div>
<div class="t" style="left:317.60px;top:685.95px;font-size:9.6px;color:#454545;letter-spacing:-1.062px;">S</div>
<div class="dot" style="left:359.2px;top:685.63px;background:#8c8886"></div>
<div class="a" style="left:78px;top:701.89px;width:580px;height:23.365px;background:#e7e7e7"></div>
<div class="t" style="left:83.00px;top:709.32px;font-size:9.6px;color:#454545;letter-spacing:-0.233px;">Hooneautomaatikasüsteemid</div>
<div class="t" style="left:272.50px;top:709.32px;font-size:9.6px;color:#454545;letter-spacing:-0.404px;">INF.14</div>
<div class="t" style="left:317.60px;top:709.32px;font-size:9.6px;color:#454545;letter-spacing:-1.062px;">S</div>
<div class="dot" style="left:359.2px;top:709.00px;background:#8c8886"></div>
<div class="t" style="left:83.00px;top:732.68px;font-size:9.6px;color:#454545;letter-spacing:-0.222px;">Tarkvara üldiselt</div>
<div class="t" style="left:272.50px;top:732.68px;font-size:9.6px;color:#454545;letter-spacing:-0.547px;">APP.6</div>
<div class="t" style="left:317.60px;top:732.68px;font-size:9.6px;color:#454545;letter-spacing:-1.062px;">S</div>
<div class="dot" style="left:359.2px;top:732.36px;background:#8c8886"></div>
<div class="a" style="left:78px;top:748.62px;width:580px;height:23.365px;background:#e7e7e7"></div>
<div class="t" style="left:83.00px;top:756.05px;font-size:9.6px;color:#454545;letter-spacing:-0.248px;">Tellimustarkvara arendus</div>
<div class="t" style="left:272.50px;top:756.05px;font-size:9.6px;color:#454545;letter-spacing:-0.547px;">APP.7</div>
<div class="t" style="left:317.60px;top:756.05px;font-size:9.6px;color:#454545;letter-spacing:-1.062px;">S</div>
<div class="dot" style="left:359.2px;top:755.73px;background:#8c8886"></div>
<div class="a" style="left:658px;top:0;width:366px;height:774px;background:#f4f5f5;box-shadow:-1px 0 1.5px rgba(0,0,0,.07)"></div>
<div class="a" style="left:658px;top:0;width:366px;height:40.7px;background:linear-gradient(#e8e8e8 37.5px,#e3e3e3 40.7px)"></div>
<div class="t" style="left:666.90px;top:11.21px;font-size:19.6px;color:#1f1f1f;letter-spacing:-0.200px;transform:scaleX(.865);transform-origin:0 0;-webkit-text-stroke:0.35px #1f1f1f">CON.1</div>
<svg class="a" style="left:999px;top:15px" width="9" height="9" viewBox="999 15 9 9"><path d="M1001.5 17.7L1005.7 21.9M1005.7 17.7L1001.5 21.9" stroke="#444" stroke-width="1.15" stroke-linecap="round"/></svg>
<div class="a" style="left:667.3px;top:49.2px;width:49.5px;height:24.6px;border:1px solid #e3e4e5;border-bottom:none;border-radius:4px 4px 0 0;background:#f4f5f5"></div>
<div class="a" style="left:716.3px;top:49.2px;width:59.5px;height:24.4px;border-radius:4px 4px 0 0;background:#dee7f4"></div>
<div class="sep" style="left:667px;top:73.2px;width:349px;background:#e3e4e5"></div>
<div class="t" style="left:677.00px;top:56.97px;font-size:9.6px;color:#555;letter-spacing:-0.141px;">Module</div>
<div class="t" style="left:726.60px;top:56.97px;font-size:9.6px;color:#555;letter-spacing:-0.223px;">Measures</div>
<div class="t" style="left:692.70px;top:89.04px;font-size:9.4px;color:#222;font-weight:bold;letter-spacing:-0.451px;">Reference</div>
<div class="t" style="left:750.00px;top:89.04px;font-size:9.4px;color:#222;font-weight:bold;letter-spacing:-0.477px;">Description</div>
<svg class="a" style="left:941px;top:88.3px" width="10.5" height="11" viewBox="0 0 10.5 11"><path d="M5.2 .7C3.8 .7 2.2 1.2 1.3 1.8C1.1 5.3 2.3 8.5 5.2 10.2C8.1 8.5 9.3 5.3 9.1 1.8C8.2 1.2 6.6 .7 5.2 .7Z" fill="none" stroke="#555" stroke-width=".9"/><rect x="4.75" y="3" width=".95" height="3.2" fill="#555"/><circle cx="5.22" cy="7.4" r=".55" fill="#555"/></svg>
<div class="t" style="left:988.40px;top:89.04px;font-size:9.4px;color:#222;font-weight:bold;letter-spacing:-0.566px;">Force</div>
<div class="sep" style="left:667px;top:104.9px;width:349px"></div>
<div class="pb plus" style="left:672px;top:113.50px"></div>
<div class="t" style="left:692.80px;top:112.67px;font-size:9.6px;color:#555;letter-spacing:-0.516px;">CON.1.M1</div>
<div class="t" style="left:750.00px;top:112.67px;font-size:9.6px;color:#444;letter-spacing:-0.259px;">Krüptomehhanismide kasutuselevõtu</div>
<div class="t" style="left:750.00px;top:126.00px;font-size:9.6px;color:#444;letter-spacing:-0.236px;">kavandamine [vastutav spetsialist]</div>
<div class="t" style="left:941.80px;top:113.27px;font-size:9.6px;color:#58ca3a;font-weight:bold;letter-spacing:-0.434px;">Main</div>
<div class="dot" style="left:987.9px;top:112.70px;background:#ef5519"></div>
<div class="sep" style="left:667px;top:142.10px;width:349px"></div>
<div class="pb plus" style="left:672px;top:150.50px"></div>
<div class="t" style="left:692.80px;top:149.67px;font-size:9.6px;color:#555;letter-spacing:-0.516px;">CON.1.M2</div>
<div class="t" style="left:750.00px;top:149.67px;font-size:9.6px;color:#444;letter-spacing:-0.252px;">Andmete turvalisuse tagamine</div>
<div class="t" style="left:750.00px;top:163.00px;font-size:9.6px;color:#444;letter-spacing:-0.234px;">krüptomehhanismide kasutamisel [IT-talitus]</div>
<div class="t" style="left:941.80px;top:150.27px;font-size:9.6px;color:#58ca3a;font-weight:bold;letter-spacing:-0.434px;">Main</div>
<div class="dot" style="left:987.9px;top:149.70px;background:#ef5519"></div>
<div class="sep" style="left:667px;top:179.10px;width:349px"></div>
<div class="pb plus" style="left:672px;top:187.50px"></div>
<div class="t" style="left:692.80px;top:186.67px;font-size:9.6px;color:#555;letter-spacing:-0.516px;">CON.1.M4</div>
<div class="t" style="left:750.00px;top:186.67px;font-size:9.6px;color:#444;letter-spacing:-0.278px;">Turvaline võtmehaldus</div>
<div class="t" style="left:941.80px;top:187.27px;font-size:9.6px;color:#58ca3a;font-weight:bold;letter-spacing:-0.434px;">Main</div>
<div class="dot" style="left:987.9px;top:186.70px;background:#ef5519"></div>
<div class="sep" style="left:667px;top:206.10px;width:349px"></div>
<div class="pb plus" style="left:672px;top:214.50px"></div>
<div class="t" style="left:692.80px;top:213.67px;font-size:9.6px;color:#555;letter-spacing:-0.516px;">CON.1.M5</div>
<div class="t" style="left:750.00px;top:213.67px;font-size:9.6px;color:#444;letter-spacing:-0.221px;">Krüptovõtmete turvaline kustutus ja</div>
<div class="t" style="left:750.00px;top:227.00px;font-size:9.6px;color:#444;letter-spacing:-0.249px;">hävitamine [IT-talitus]</div>
<div class="t" style="left:941.80px;top:214.27px;font-size:9.6px;color:#58ca3a;font-weight:bold;letter-spacing:-0.621px;">Standard</div>
<div class="dot" style="left:987.9px;top:213.70px;background:#ef5519"></div>
<div class="sep" style="left:667px;top:243.10px;width:349px"></div>
<div class="pb plus" style="left:672px;top:251.50px"></div>
<div class="t" style="left:692.80px;top:250.67px;font-size:9.6px;color:#555;letter-spacing:-0.516px;">CON.1.M9</div>
<div class="t" style="left:750.00px;top:250.67px;font-size:9.6px;color:#444;letter-spacing:-0.236px;">Krüptograafiliste vahendite</div>
<div class="t" style="left:750.00px;top:264.00px;font-size:9.6px;color:#444;letter-spacing:-0.220px;">valikukriteeriumite kehtestamine [vastutav</div>
<div class="t" style="left:750.00px;top:277.33px;font-size:9.6px;color:#444;letter-spacing:-0.108px;">spetsialist]</div>
<div class="t" style="left:941.80px;top:251.27px;font-size:9.6px;color:#58ca3a;font-weight:bold;letter-spacing:-0.621px;">Standard</div>
<div class="dot" style="left:987.9px;top:250.70px;background:#ef5519"></div>
<div class="sep" style="left:667px;top:293.77px;width:349px"></div>
<div class="pb plus" style="left:672px;top:302.17px"></div>
<div class="t" style="left:692.80px;top:301.34px;font-size:9.6px;color:#555;letter-spacing:-0.490px;">CON.1.M10</div>
<div class="t" style="left:750.00px;top:301.34px;font-size:9.6px;color:#444;letter-spacing:-0.193px;">Krüptokontseptsioon</div>
<div class="t" style="left:941.80px;top:301.94px;font-size:9.6px;color:#58ca3a;font-weight:bold;letter-spacing:-0.621px;">Standard</div>
<div class="dot" style="left:987.9px;top:301.37px;background:#ef5519"></div>
<div class="sep" style="left:667px;top:320.77px;width:349px"></div>
<div class="pb plus" style="left:672px;top:329.17px"></div>
<div class="t" style="left:692.80px;top:328.34px;font-size:9.6px;color:#555;letter-spacing:-0.490px;">CON.1.M15</div>
<div class="t" style="left:750.00px;top:328.34px;font-size:9.6px;color:#444;letter-spacing:-0.307px;">Reageerimine krüptomehhanismide</div>
<div class="t" style="left:750.00px;top:341.67px;font-size:9.6px;color:#444;letter-spacing:-0.294px;">nõrgenemisele</div>
<div class="t" style="left:941.80px;top:328.94px;font-size:9.6px;color:#58ca3a;font-weight:bold;letter-spacing:-0.621px;">Standard</div>
<div class="dot" style="left:987.9px;top:328.37px;background:#ef5519"></div>
<div class="sep" style="left:667px;top:357.77px;width:349px"></div>
<div class="pb plus" style="left:672px;top:366.17px"></div>
<div class="t" style="left:692.80px;top:365.34px;font-size:9.6px;color:#555;letter-spacing:-0.490px;">CON.1.M19</div>
<div class="t" style="left:750.00px;top:365.34px;font-size:9.6px;color:#444;letter-spacing:-0.240px;">Kasutatavate krüptograafiliste vahendite</div>
<div class="t" style="left:750.00px;top:378.67px;font-size:9.6px;color:#444;letter-spacing:-0.259px;">loend [IT-talitus]</div>
<div class="t" style="left:941.80px;top:365.94px;font-size:9.6px;color:#58ca3a;font-weight:bold;letter-spacing:-0.621px;">Standard</div>
<div class="dot" style="left:987.9px;top:365.37px;background:#ef5519"></div>
<div class="sep" style="left:667px;top:394.77px;width:349px"></div>
<div class="pb plus" style="left:672px;top:403.17px"></div>
<div class="t" style="left:692.80px;top:402.34px;font-size:9.6px;color:#555;letter-spacing:-0.410px;">CON.1.M11</div>
<div class="t" style="left:750.00px;top:402.34px;font-size:9.6px;color:#444;letter-spacing:-0.191px;">Krüptograafiliste funktsioonidega riistvara</div>
<div class="t" style="left:750.00px;top:415.67px;font-size:9.6px;color:#444;letter-spacing:-0.249px;">testimine (C-I) [IT-talitus]</div>
<div class="t" style="left:941.80px;top:402.34px;font-size:9.6px;color:#555;letter-spacing:-0.277px;">High</div>
<div class="dot" style="left:987.9px;top:402.37px;background:#ef5519"></div>
<div class="sep" style="left:667px;top:431.77px;width:349px"></div>
<div class="pb plus" style="left:672px;top:440.17px"></div>
<div class="t" style="left:692.80px;top:439.34px;font-size:9.6px;color:#555;letter-spacing:-0.490px;">CON.1.M16</div>
<div class="t" style="left:750.00px;top:439.34px;font-size:9.6px;color:#444;letter-spacing:-0.201px;">Riistvaraliste krüptomoodulite füüsiline turve</div>
<div class="t" style="left:750.00px;top:452.67px;font-size:9.6px;color:#444;letter-spacing:-0.306px;">(C-I) [IT-talitus]</div>
<div class="t" style="left:941.80px;top:439.34px;font-size:9.6px;color:#555;letter-spacing:-0.277px;">High</div>
<div class="dot" style="left:987.9px;top:439.37px;background:#ef5519"></div>
<div class="sep" style="left:667px;top:468.77px;width:349px"></div>
<div class="pb" style="left:672px;top:477.17px"></div>
<div class="t" style="left:692.80px;top:476.34px;font-size:9.6px;color:#555;letter-spacing:-0.490px;">CON.1.M17</div>
<div class="t" style="left:750.00px;top:476.34px;font-size:9.6px;color:#444;letter-spacing:-0.282px;">Kiirguseturbe meetmed (C) [IT-talitus]</div>
<div class="t" style="left:941.80px;top:476.34px;font-size:9.6px;color:#555;letter-spacing:-0.277px;">High</div>
<div class="dot" style="left:987.9px;top:476.37px;background:#ef5519"></div>
<div class="sep" style="left:667px;top:495.77px;width:349px"></div>
<div class="t" style="left:676.50px;top:508.67px;font-size:9.6px;color:#8d9196;letter-spacing:-0.249px;">a.Lähtuvalt teabe konfidentsiaalsusvajadusest võetakse kiirguseturbe</div>
<div class="t" style="left:676.50px;top:521.97px;font-size:9.6px;color:#8d9196;letter-spacing:-0.289px;">parendamiseks kasutusele täiendavad meetmed.</div>
<div class="sep" style="left:676px;top:542.4px;width:298.5px"></div>
<div class="t" style="left:676.50px;top:554.77px;font-size:9.6px;color:#8d9196;letter-spacing:-0.289px;">b.Kiirguseturbe meetmed ja meetmete rakendamise lävendid on</div>
<div class="t" style="left:676.50px;top:568.27px;font-size:9.6px;color:#8d9196;letter-spacing:-0.194px;">dokumenteeritud krüptokontseptsioonis.</div>
<div class="sep" style="left:667px;top:598.2px;width:316.5px"></div>
<div class="pb plus" style="left:672px;top:606.60px"></div>
<div class="t" style="left:692.80px;top:605.77px;font-size:9.6px;color:#555;letter-spacing:-0.490px;">CON.1.M18</div>
<div class="t" style="left:750.00px;top:605.77px;font-size:9.6px;color:#444;letter-spacing:-0.191px;">Krüptograafiliste funktsioonidega riistvara</div>
<div class="t" style="left:750.00px;top:619.10px;font-size:9.6px;color:#444;letter-spacing:-0.338px;">asendus (C-I-A) [IT-talitus]</div>
<div class="t" style="left:941.80px;top:605.77px;font-size:9.6px;color:#555;letter-spacing:-0.277px;">High</div>
<div class="dot" style="left:987.9px;top:605.80px;background:#ef5519"></div>
<div class="sep" style="left:667px;top:635.20px;width:349px"></div>
<div class="pb plus" style="left:672px;top:643.60px"></div>
<div class="t" style="left:692.80px;top:642.77px;font-size:9.6px;color:#555;letter-spacing:-0.490px;">CON.1.M20</div>
<div class="t" style="left:750.00px;top:642.77px;font-size:9.6px;color:#444;letter-spacing:-0.188px;">Krüptograafiliste funktsioonidega riist- ja</div>
<div class="t" style="left:750.00px;top:656.10px;font-size:9.6px;color:#444;letter-spacing:-0.273px;">tarkvara manipuleerimise tuvastamine (C-I)</div>
<div class="t" style="left:941.80px;top:642.77px;font-size:9.6px;color:#555;letter-spacing:-0.277px;">High</div>
<div class="dot" style="left:987.9px;top:642.80px;background:#ef5519"></div>
<div class="sep" style="left:667px;top:672.20px;width:349px"></div>
<div class="a" style="left:667.2px;top:745px;width:348.8px;height:22px;background:#1b66e8;border-radius:3px"></div>
<div class="t" style="left:834.20px;top:751.44px;font-size:9.4px;color:#f4f7ff;font-weight:bold;letter-spacing:-0.375px;">Edit</div>
<div class="a" style="left:658px;top:768px;width:366px;height:6px;background:linear-gradient(#ececec,#e0e0e0)"></div>
<div class="a" style="left:990.5px;top:739px;width:60px;height:23.5px;background:#3c4e64;border:1px solid #1a1f26;border-radius:4px"></div>
<div class="t" style="left:1002.50px;top:745.77px;font-size:11.5px;color:#e8ecf0;letter-spacing:-0.227px;">Scre</div>
<div class="a" style="left:0;top:748px;width:1024px;height:25px;background:linear-gradient(rgba(0,0,0,0),rgba(0,0,0,.065));pointer-events:none"></div>
<div class="a" style="left:0;top:773px;width:1024px;height:1px;background:rgba(255,255,255,.35)"></div>
<svg class="a" style="left:0;top:762px" width="6" height="12" viewBox="0 0 6 12"><path d="M0 0Q0.4 9 4 12H0Z" fill="#2a1a14"/></svg>
</body></html>
